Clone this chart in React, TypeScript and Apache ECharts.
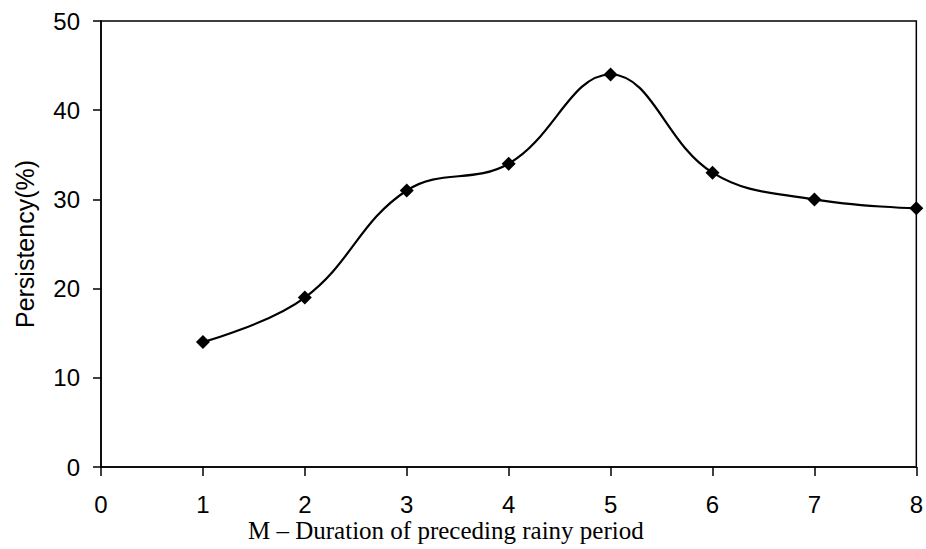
import React, { useEffect, useRef } from "react";
import * as echarts from "echarts";

const durations = [1, 2, 3, 4, 5, 6, 7, 8];
const persistency = [14, 19, 31, 34, 44, 33, 30, 29];
const yAxisTitle = "Persistency(%)";
const xAxisTitle = "M – Duration of preceding rainy period";

export default function App() {
  const ref = useRef<HTMLDivElement>(null);
  useEffect(() => {
    if (!ref.current) return;
    const chart = echarts.init(ref.current, null, { renderer: "svg" });
    const sans = "'Liberation Sans', Arial, sans-serif";
    const serif = "'Liberation Serif', 'Times New Roman', serif";
    chart.setOption({
      animation: false,
      backgroundColor: "#fff",
      grid: {
        left: 101,
        right: 9,
        top: 21,
        bottom: 82,
        show: true,
        borderColor: "#000",
        borderWidth: 1.5,
        containLabel: false,
      },
      xAxis: {
        type: "value",
        min: 0,
        max: 8,
        interval: 1,
        axisLine: { show: true, onZero: false, lineStyle: { color: "#000", width: 1.5 } },
        axisTick: { show: true, inside: false, length: 9, lineStyle: { color: "#000", width: 1.5 } },
        axisLabel: { color: "#000", fontFamily: sans, fontSize: 24, lineHeight: 18, margin: 28 },
        splitLine: { show: false },
      },
      yAxis: {
        type: "value",
        min: 0,
        max: 50,
        interval: 10,
        name: yAxisTitle,
        nameLocation: "middle",
        nameRotate: 90,
        nameGap: 64,
        nameTextStyle: { color: "#000", fontFamily: sans, fontSize: 25 },
        axisLine: { show: true, lineStyle: { color: "#000", width: 1.5 } },
        axisTick: { show: true, inside: false, length: 8, lineStyle: { color: "#000", width: 1.5 } },
        axisLabel: { color: "#000", fontFamily: sans, fontSize: 24, margin: 21 },
        splitLine: { show: false },
      },
      graphic: [
        {
          type: "text",
          left: 248,
          top: 518,
          style: {
            text: xAxisTitle,
            fill: "#000",
            font: `25px ${serif}`,
            lineHeight: 22,
          },
        },
      ],
      series: [
        {
          type: "line",
          data: durations.map((d, i) => [d, persistency[i]]),
          smooth: 0.4,
          symbol: "diamond",
          symbolSize: 14,
          itemStyle: { color: "#000" },
          lineStyle: { color: "#000", width: 2.2 },
        },
      ],
    });
    return () => chart.dispose();
  }, []);
  return (
    <div
      ref={ref}
      style={{ position: "fixed", left: 0, top: 0, width: 926, height: 549, background: "#fff" }}
    />
  );
}
